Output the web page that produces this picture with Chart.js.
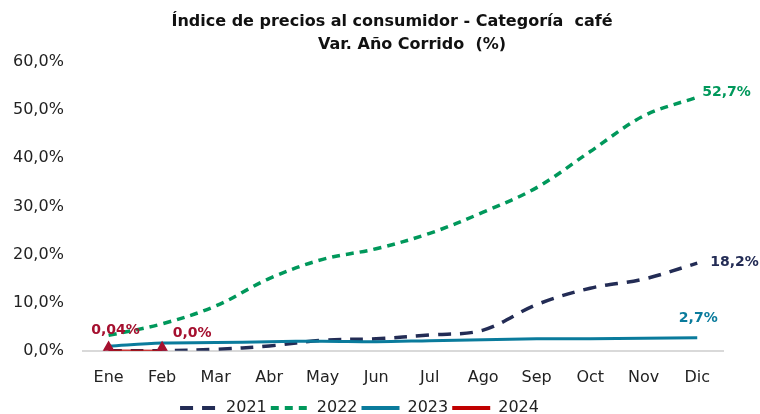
<!DOCTYPE html>
<html>
<head>
<meta charset="utf-8">
<script src="https://cdn.jsdelivr.net/npm/chart.js@4"></script>
<style>
  body { margin: 0; background: #fff; }
  #wrap { width: 760px; height: 414px; }
</style>
</head>
<body>
<div id="wrap"><canvas id="grafico"></canvas></div>
<script>
const meses = ["Ene", "Feb", "Mar", "Abr", "May", "Jun", "Jul", "Ago", "Sep", "Oct", "Nov", "Dic"]
const serie2021 = [0.0, 0.0, 0.3, 1.0, 2.2, 2.5, 3.3, 4.3, 9.6, 13.0, 14.9, 18.2]
const serie2022 = [3.2, 5.6, 9.3, 15.0, 19.0, 21.2, 24.4, 28.8, 33.9, 41.4, 48.8, 52.7]
const serie2023 = [1.0, 1.6, 1.7, 1.9, 2.0, 1.9, 2.1, 2.3, 2.5, 2.5, 2.6, 2.7]
const serie2024 = [0.04, 0.0]
const ticksY = [0, 10, 20, 30, 40, 50, 60]
const titulo = ["Índice de precios al consumidor - Categoría  café", "Var. Año Corrido  (%)"]

const fuente = "'DejaVu Sans', sans-serif"
const fmt = (v, dec) => v.toFixed(dec).replace(".", ",") + "%"

// etiquetas de datos (posicion del texto relativa al punto)
const etiquetas = [
    { ds: 0, idx: 11, texto: fmt(serie2021[11], 1), dx: 13, dy: -1, align: "left" },
    { ds: 1, idx: 11, texto: fmt(serie2022[11], 1), dx: 5, dy: -5, align: "left" },
    { ds: 2, idx: 11, texto: fmt(serie2023[11], 1), dx: 1, dy: -19, align: "center" },
    { ds: 3, idx: 0, texto: fmt(serie2024[0], 2), dx: 7, dy: -20, align: "center" },
    { ds: 3, idx: 1, texto: fmt(serie2024[1], 1), dx: 30, dy: -17, align: "center" }
]

const pluginEtiquetas = {
    id: "etiquetas",
    afterDatasetsDraw(chart) {
        const ctx = chart.ctx
        ctx.save()
        ctx.font = "bold 14px " + fuente
        ctx.textBaseline = "middle"
        etiquetas.forEach(e => {
            const p = chart.getDatasetMeta(e.ds).data[e.idx]
            ctx.fillStyle = chart.data.datasets[e.ds].labelColor
            ctx.textAlign = e.align
            ctx.fillText(e.texto, p.x + e.dx, p.y + e.dy)
        })
        // titulo
        ctx.fillStyle = "#111"
        ctx.font = "bold 16px " + fuente
        ctx.textAlign = "center"
        ctx.fillText(titulo[0], 392, 22)
        ctx.fillText(titulo[1], 412, 45)
        ctx.restore()
    }
}

new Chart(document.getElementById("grafico"), {
    type: "line",
    data: {
        labels: meses,
        datasets: [
            {
                label: "2021",
                data: serie2021,
                borderColor: "#232C55",
                labelColor: "#232C55",
                borderWidth: 3.5,
                borderDash: [13, 9],
                pointRadius: 0,
                tension: 0.35,
                order: 3
            },
            {
                label: "2022",
                data: serie2022,
                borderColor: "#00985B",
                labelColor: "#00985B",
                borderWidth: 3.5,
                borderDash: [8, 6],
                pointRadius: 0,
                tension: 0.35,
                order: 2
            },
            {
                label: "2023",
                data: serie2023,
                borderColor: "#0A7B9C",
                labelColor: "#0A7B9C",
                borderWidth: 3,
                pointRadius: 0,
                tension: 0.35,
                order: 1
            },
            {
                label: "2024",
                data: serie2024,
                borderColor: "#C00000",
                labelColor: "#A5102F",
                borderWidth: 2,
                pointStyle: "triangle",
                pointRadius: 8,
                pointBackgroundColor: "#A5102F",
                pointBorderColor: "#A5102F",
                tension: 0,
                order: 0
            }
        ]
    },
    options: {
        responsive: true,
        maintainAspectRatio: false,
        animation: false,
        layout: { padding: { left: -5, right: 36, top: 62, bottom: -12 } },
        plugins: {
            title: { display: false },
            legend: {
                position: "bottom",
                labels: {
                    color: "#222",
                    font: { family: fuente, size: 16 },
                    usePointStyle: true,
                    pointStyle: "line",
                    pointStyleWidth: 38,
                    padding: 4,
                    generateLabels(chart) {
                        return chart.data.datasets.map((d, i) => ({
                            text: d.label,
                            strokeStyle: d.borderColor,
                            fillStyle: d.borderColor,
                            lineWidth: 4,
                            lineDash: d.borderDash || [],
                            pointStyle: "line",
                            datasetIndex: i,
                            fontColor: "#222"
                        }))
                    }
                }
            },
            tooltip: { enabled: false }
        },
        scales: {
            x: {
                offset: true,
                grid: { display: false },
                border: { display: false },
                ticks: { color: "#222", font: { family: fuente, size: 16 }, padding: 9 }
            },
            y: {
                min: 0,
                max: 60,
                afterBuildTicks(axis) { axis.ticks = ticksY.map(v => ({ value: v })) },
                grid: {
                    color: ctx => ctx.tick.value === 0 ? "#D9D9D9" : "transparent",
                    lineWidth: 2,
                    drawTicks: false
                },
                border: { display: false },
                ticks: {
                    color: "#222",
                    font: { family: fuente, size: 16 },
                    padding: 18,
                    callback: v => fmt(v, 1)
                }
            }
        }
    },
    plugins: [pluginEtiquetas]
})
</script>
</body>
</html>
